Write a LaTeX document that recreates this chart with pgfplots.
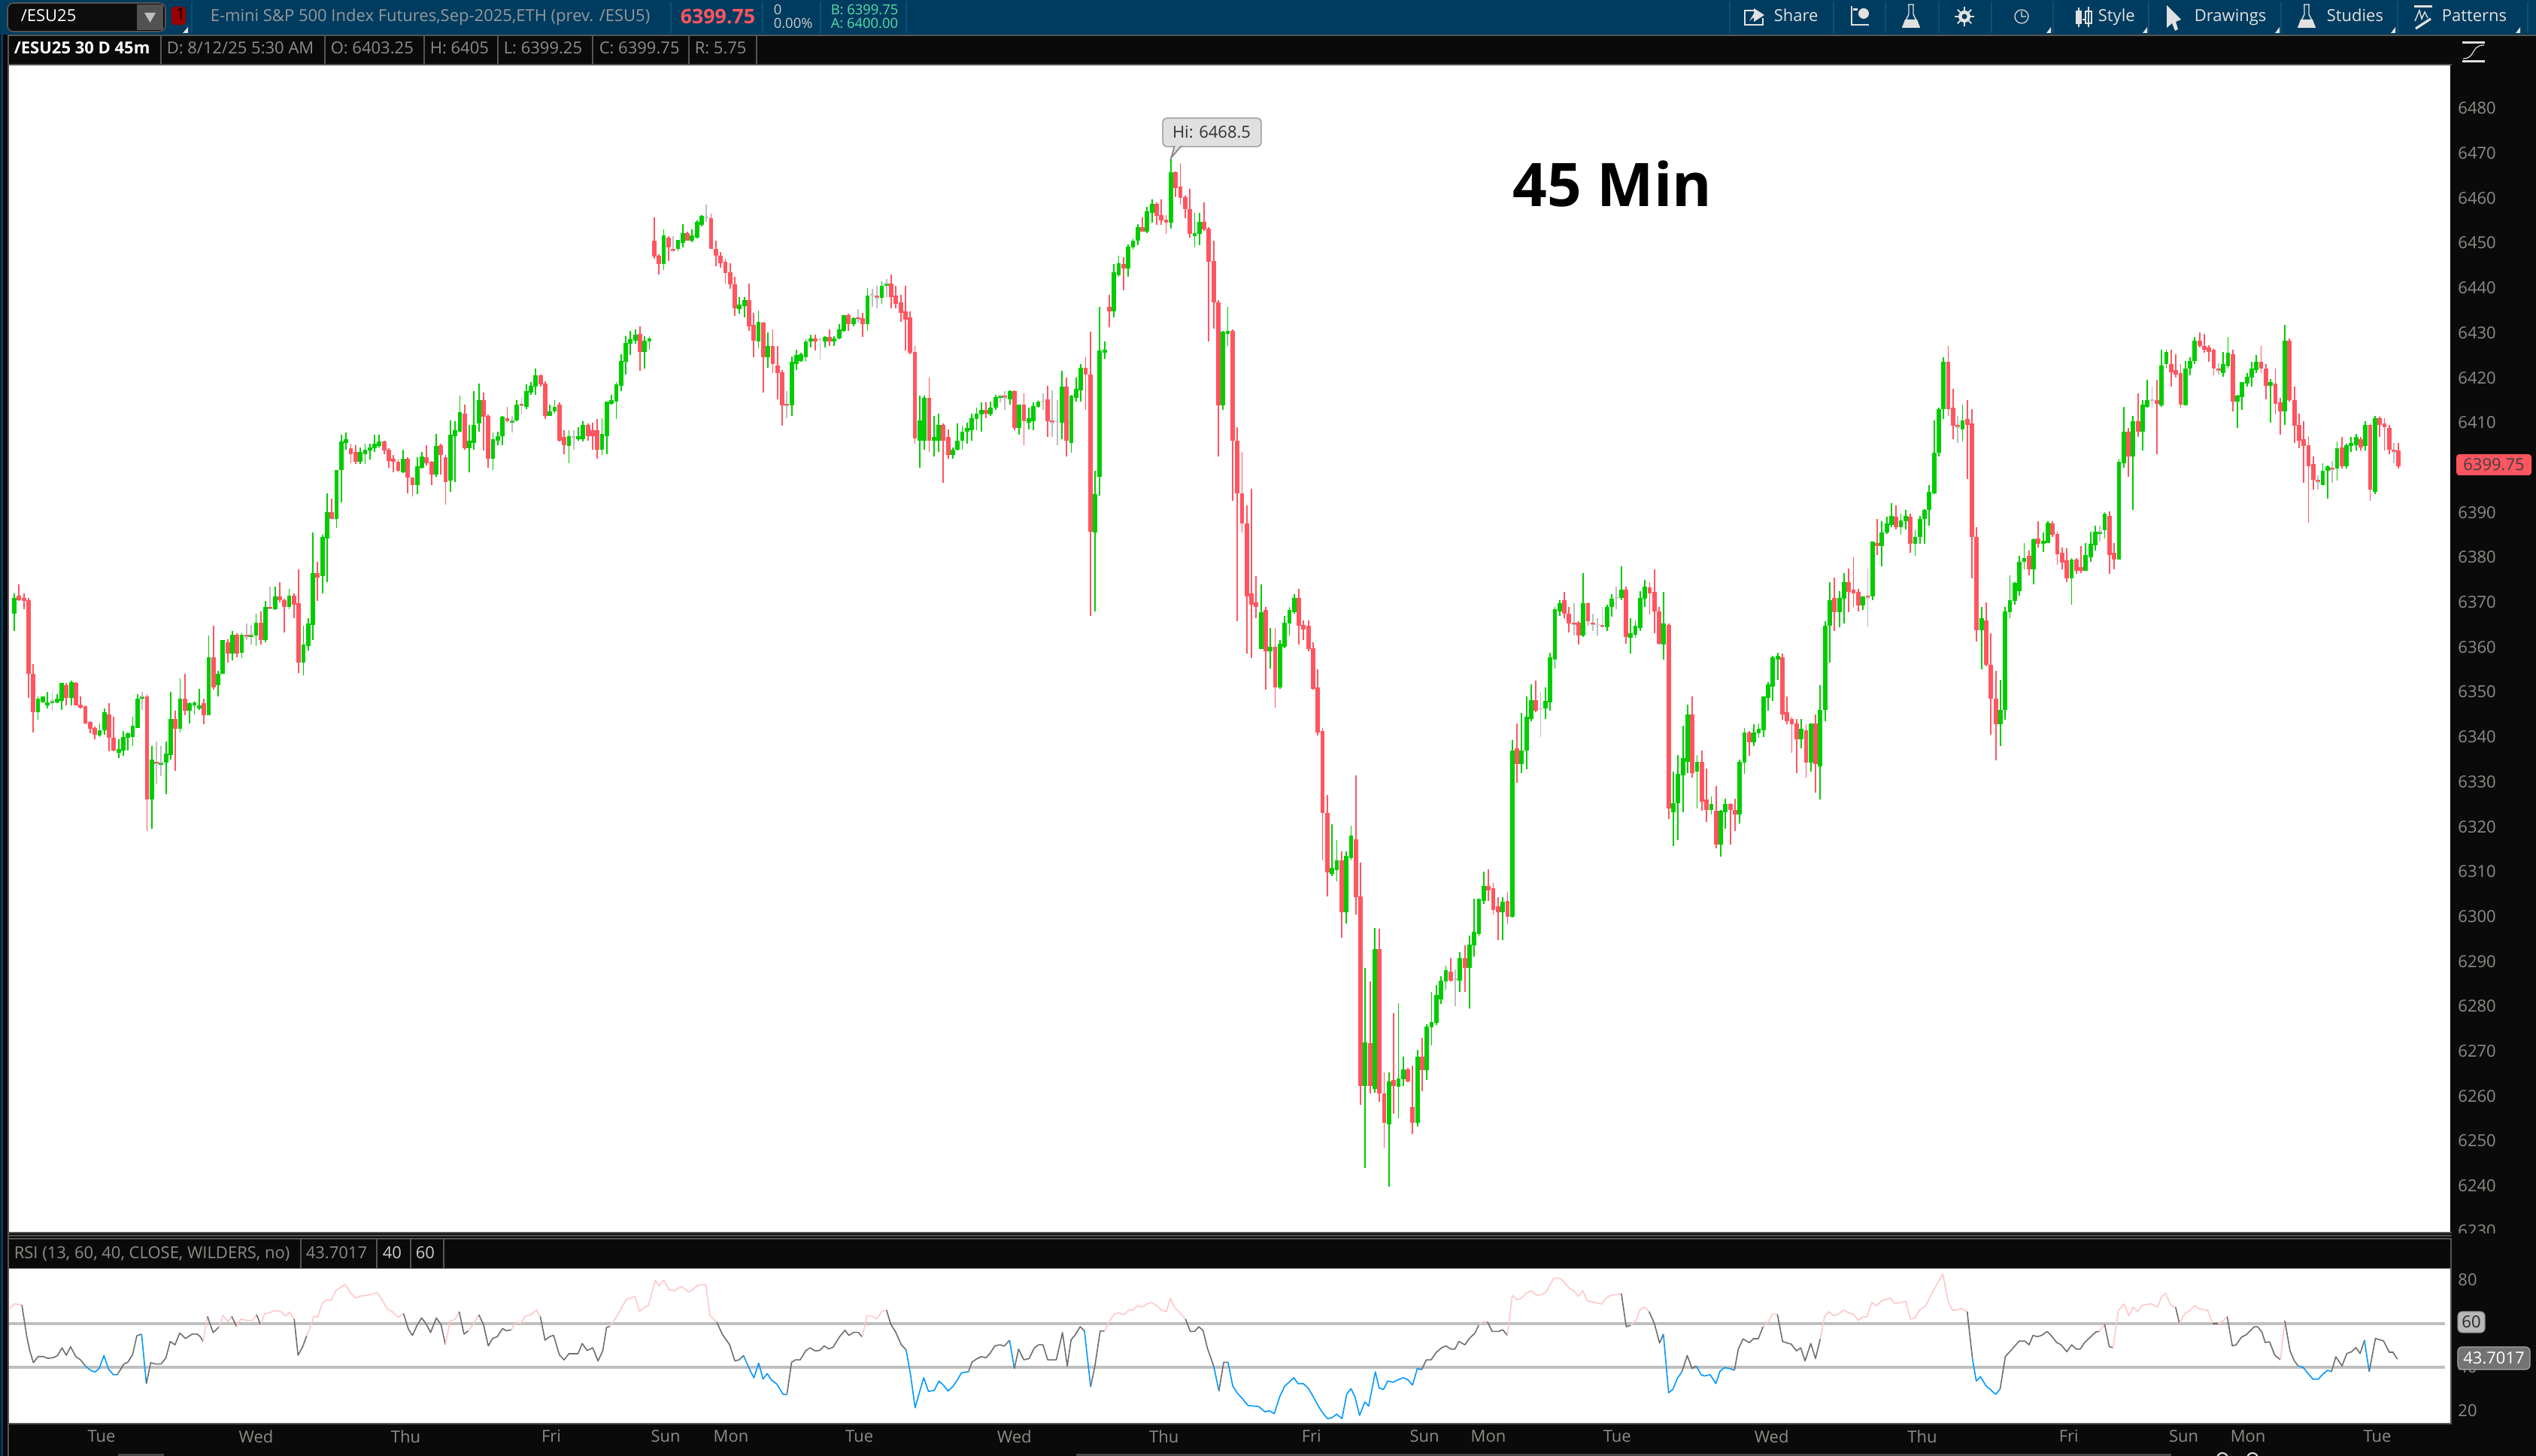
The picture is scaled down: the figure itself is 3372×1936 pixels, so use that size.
\documentclass[border=0pt]{standalone}
\usepackage{fontspec}
\setmainfont{Open Sans}
\usepackage{pgfplots}
\usepackage{pgfplotstable}
\pgfplotsset{compat=1.18}
\definecolor{panel}{RGB}{10,10,10}
\definecolor{topbar}{RGB}{0,60,95}
\definecolor{topsep}{RGB}{14,80,115}
\definecolor{rule}{RGB}{85,85,85}
\definecolor{txt}{RGB}{140,140,135}
\definecolor{icon}{RGB}{225,225,225}
\definecolor{cup}{RGB}{0,204,0}
\definecolor{cdn}{RGB}{255,85,96}
\definecolor{cdoji}{RGB}{190,190,190}
\definecolor{rsipink}{RGB}{255,200,200}
\definecolor{rsigray}{RGB}{110,110,110}
\definecolor{rsiblue}{RGB}{0,153,255}
% one row per 45 minute bar
\pgfplotstableread{
o h l c
6367 6371.5 6363 6370.5
6371 6373.5 6369.75 6370
6370.5 6371.5 6368 6369.75
6370 6370.5 6348.25 6353.5
6353.5 6355.75 6340.5 6345
6345 6348.5 6343.25 6348
6347.25 6348.5 6347.25 6348.5
6346.5 6349.5 6345.75 6347.25
6347 6349.5 6345.5 6347.5
6347.25 6349 6347 6348
6347.5 6351.5 6345.5 6351.5
6351 6351.5 6346.5 6348.25
6348.25 6352 6346.5 6351.75
6351.5 6351.75 6346.5 6346.5
6346.75 6348.5 6345.75 6346
6346.25 6346.5 6342.25 6342.5
6342.75 6343 6340.25 6341.25
6341.5 6341.75 6339 6340
6339.75 6342.5 6339.5 6341
6341 6345.75 6340 6345
6344.5 6347 6336.25 6339.25
6339.25 6344 6336.25 6336.5
6336 6339 6334.75 6336.75
6336.5 6340.75 6335.25 6339.5
6339.25 6340.5 6336.5 6340.25
6339.5 6344 6337.5 6342
6341.5 6349 6341.5 6348
6348 6349.5 6345.5 6348.5
6348.5 6349 6318.5 6325.5
6325.5 6337.5 6319 6334.5
6334 6338.5 6329 6333.5
6333.25 6337.5 6330.75 6333.75
6333.75 6338.5 6326.75 6335.75
6335.5 6349.5 6334.5 6343.5
6343.5 6345.25 6332 6341.25
6341.25 6352.5 6340.5 6348
6348 6353.5 6344.25 6345.25
6345.25 6347.25 6342.5 6347
6346.5 6347.5 6344.5 6347.25
6345.75 6350.25 6345.5 6346.5
6347 6348 6342.25 6344.25
6344.25 6362 6344.25 6357.25
6357.25 6364.25 6350 6350.5
6351 6354.25 6348.5 6353.5
6353.5 6361 6353.5 6361
6360.5 6361.25 6356 6358
6358 6363 6356.5 6362.25
6362.25 6362.5 6357.25 6358
6358.25 6362.5 6357 6362.25
6362.25 6364.75 6361 6361.75
6361.75 6364.5 6360 6362.25
6362 6367 6359.75 6365
6365 6367.5 6360 6361
6361 6369.75 6360.5 6368.5
6368.5 6373 6368 6368
6368 6373 6367.75 6370.75
6370.75 6374 6369.5 6370
6370 6370.25 6362.75 6368.5
6368.5 6372.5 6368 6371
6371 6371.5 6366 6369
6369.25 6376.75 6353.75 6356
6356 6364.25 6353.25 6360
6359.75 6366 6358.75 6364.75
6364.5 6385 6361 6376
6376 6378.5 6369.75 6375
6375.25 6384.5 6371.5 6384
6383.75 6393.75 6374 6389.5
6389.5 6392.5 6388 6388
6388 6399 6386 6399
6399 6406.75 6391.75 6405.25
6405 6407.25 6403.5 6405.75
6403.75 6404.75 6400.5 6402.5
6403 6404.5 6400.25 6400.75
6400.75 6404 6400.25 6403
6402.5 6404.75 6400.25 6403.5
6403.25 6404.75 6401.25 6404
6403.75 6406.75 6403 6404.75
6404.25 6406.75 6404 6405.25
6405.25 6405.5 6402.5 6403.25
6403.5 6403.75 6399.5 6401
6401.5 6402.25 6398.5 6400.75
6400.75 6401.25 6398.5 6398.75
6398.5 6403.5 6398.25 6401.5
6401.5 6401.75 6393.75 6397.25
6397.25 6397.5 6393 6395.5
6395.5 6401.75 6393.5 6399.75
6399.5 6403 6399.25 6402
6401.75 6404.5 6400 6400.5
6400.75 6401 6395.5 6398
6398 6407 6397.5 6404.25
6404.5 6404.75 6398 6402.25
6401.75 6402.5 6391.25 6396.25
6396.5 6410 6394 6406.75
6406.5 6409.75 6396.25 6407.75
6407.5 6415.5 6407.25 6411.75
6411.5 6413.5 6403.5 6403.75
6403.75 6409 6398.5 6405.5
6405 6416.5 6403.5 6409
6409.25 6418.25 6407.5 6414.5
6414.5 6416.25 6403.25 6410.75
6411 6411.25 6399.5 6401.5
6401.5 6407.25 6399 6405.75
6405.5 6407.5 6404.5 6406.5
6406.5 6411 6404.5 6410.75
6410.5 6413 6409.5 6409.75
6409.5 6411 6407.25 6410
6410 6414.5 6409.75 6413.5
6413.75 6415.25 6411.25 6413.25
6413 6418 6412.5 6416.5
6416.25 6418.5 6415.75 6417.75
6417.5 6421.5 6415.75 6420
6420 6420.25 6417.5 6418
6418.25 6418.75 6410.25 6411
6411 6413.5 6411 6412
6412 6414.5 6411.5 6413
6413.5 6414 6405.25 6405.5
6406.25 6407.75 6402.5 6404.5
6404.25 6407.75 6400.5 6406.5
6406.25 6407.75 6403.5 6406.25
6405.75 6408.5 6405.5 6406.5
6405.75 6409.75 6405.25 6409
6409 6409.25 6405.5 6406.5
6407.75 6409.5 6403.5 6406.5
6407.75 6410.25 6401.5 6403.5
6403.5 6410.5 6402.25 6407
6406.5 6414.25 6402.5 6414.25
6413.75 6415.75 6413.5 6414.5
6414.25 6418.5 6410.25 6418
6417.75 6424.75 6416.5 6423.25
6423 6428.75 6420.25 6427.25
6427 6430 6424.5 6428
6427.75 6430.25 6427 6429
6429.25 6431 6421 6425.25
6425.25 6428.75 6421.5 6427.75
6427.5 6428.5 6425.75 6428.25
6450 6455.25 6446 6446.5
6446.75 6447 6442.5 6444.75
6444.75 6452.5 6443.5 6451.25
6450.75 6451 6445.5 6448.5
6448.25 6451 6447.5 6447.75
6448.25 6450.25 6447.75 6450.25
6449.5 6453.75 6448.5 6451.75
6451.75 6452 6450 6450
6450 6452.5 6449.75 6451.25
6450.75 6454.5 6450.5 6454.25
6453.5 6455.75 6453.25 6455.5
6455.25 6458 6454.25 6455.25
6455 6456 6448.25 6448.25
6448.25 6450 6444.25 6446.75
6446.75 6447.5 6444 6445
6445.25 6446 6440.5 6442.75
6443 6445 6439.25 6440.25
6440.25 6442 6433.25 6435
6434.75 6437.5 6433.75 6435.75
6435.5 6437.5 6433 6436.75
6436.75 6440.5 6430 6431
6431.25 6434 6424 6427.75
6427.5 6434.5 6426 6432
6431.75 6432 6416.25 6424
6424 6429.5 6421.75 6426.5
6426.5 6430.25 6420.5 6422.5
6422.25 6426.5 6414.75 6420.5
6420.75 6421.25 6408.75 6413.25
6413.75 6416.5 6410.5 6413.25
6413.25 6424.25 6411 6423
6422.5 6425.75 6421.25 6424.5
6423.25 6425 6423 6424.75
6424 6428 6423 6427.5
6427.5 6429 6426.25 6428.25
6428.25 6429 6425.5 6427.5
6428 6428.5 6423.5 6428
6427.5 6428.75 6426.25 6428.5
6428.5 6430.25 6426.5 6427.5
6427.5 6428.75 6426.5 6428.25
6428.25 6431.5 6428 6430.25
6430 6433.5 6429.75 6433.5
6433.5 6433.75 6430 6431.5
6431.5 6433 6431 6432.75
6433 6434.75 6431.75 6432.5
6432.75 6434 6428.5 6431.5
6431.5 6439.5 6430 6437.75
6438 6439.25 6435.25 6438
6437.75 6440 6435 6437.25
6437.25 6441 6436 6440
6440 6441.5 6437.5 6440.5
6440.5 6442.5 6435 6437.5
6437.75 6440 6435 6436
6436.25 6438 6432 6434
6434.25 6440 6425.5 6432.5
6433 6434.25 6424.75 6425
6425.25 6426.5 6404.75 6406
6405.5 6415.5 6399.5 6410
6405.5 6415.5 6403.5 6415
6415 6419.5 6403 6405.5
6405.5 6411 6402 6406.25
6405.5 6411.5 6403 6409
6409 6409.25 6396 6405.5
6406.25 6408 6401.5 6402.25
6402.25 6404 6401.5 6403.5
6403.5 6409.25 6403.25 6405.5
6405.5 6408.75 6403.5 6407.5
6407.5 6409.5 6404.75 6408.25
6407.75 6411.5 6405.5 6410.5
6410.25 6412.75 6407.75 6411.5
6411.25 6414 6407.5 6412.25
6412.25 6414 6410.5 6411.5
6411.25 6414.25 6411 6412.75
6412.75 6415.75 6412.25 6415.25
6415 6415.75 6414 6415.5
6415.5 6416.5 6412.25 6415
6414.75 6416.75 6413.5 6416.5
6416.5 6416.75 6407.75 6408.25
6408.25 6413.5 6406.75 6413.5
6413.5 6416 6404.5 6409.75
6409.5 6412.75 6408 6410.5
6409.75 6414 6407.75 6413.25
6413 6414.5 6412.75 6414.25
6414.25 6416 6412.25 6414.25
6414.75 6417.75 6406.25 6409.75
6410 6416.75 6406.25 6409.5
6409.75 6414.5 6404.5 6409.75
6409.5 6421 6405.75 6417.5
6417.5 6419.5 6402 6405.5
6405 6415.75 6402.75 6415.5
6415 6419.5 6414.25 6417
6416.75 6422.5 6414.25 6421.75
6421.75 6424 6412.25 6420.25
6420.25 6429.75 6366.5 6385.25
6385 6398.75 6367.5 6393.5
6397.5 6435.25 6393.25 6425.5
6425 6427.5 6423.75 6425.75
6435.25 6438 6430.75 6434.25
6434.25 6444.75 6433 6443
6442.25 6446.75 6442 6445
6444.75 6446.25 6439 6443.75
6443.75 6449.25 6442 6448.75
6448.5 6450.5 6448 6450
6450 6453.75 6449 6453
6453 6455.25 6452 6452
6452 6457.5 6451.75 6456.5
6456.25 6459.25 6454 6458.25
6458.25 6458.5 6453.5 6455.5
6455.75 6459.25 6453.5 6454.5
6454.75 6455.75 6451.5 6454
6454 6468.5 6452.75 6465.25
6465.25 6465.5 6459.75 6461.75
6462 6467.25 6458 6459.5
6459.75 6460 6455 6457
6457 6461.5 6450.75 6451.5
6451 6456.25 6448.5 6451.75
6451.5 6456.25 6449 6454.25
6454.25 6458.5 6452.25 6452.5
6452.75 6453 6427.5 6445.25
6445.5 6450 6430.5 6436.25
6436.25 6436.75 6402 6413.25
6413.25 6430 6412.25 6429.75
6429.25 6435.25 6426.5 6430
6430 6430.25 6392 6405.5
6405.5 6408.5 6365.25 6393.75
6393.75 6403 6385 6387
6387 6391 6358 6370.75
6371.5 6394.75 6357 6369
6369.5 6375.25 6366 6368.5
6359 6373.5 6359 6367.25
6367.75 6368.5 6350 6358.5
6358.5 6363.75 6354.75 6359.5
6359.5 6363.75 6346 6350.5
6350.5 6361 6350.25 6360.25
6359.5 6366.5 6359.25 6365
6364.75 6368.5 6362 6367.75
6367.25 6371.25 6367 6370.5
6370.5 6372.5 6360 6364.25
6364.5 6365.5 6361 6363.5
6364.25 6365.5 6358.5 6359
6359.25 6360.5 6350 6350.25
6350.5 6354.5 6339.75 6340.5
6340.75 6341.5 6312 6322.5
6322.5 6326.5 6304 6309.25
6309 6320 6308.5 6310.25
6309.75 6316.5 6307.25 6312
6312 6314 6294.75 6300.5
6300.5 6314 6298 6313
6312.5 6319.75 6312 6317.5
6316.75 6331 6300 6303.75
6304 6311.5 6257.5 6261.75
6261.75 6288 6243.5 6271.5
6271.25 6285 6260 6261.75
6261 6297 6260.25 6292.25
6292.25 6296.75 6258.25 6260
6260 6264.75 6248 6253.5
6253.25 6264.75 6239.25 6262.75
6263 6278 6255.5 6261.75
6261.5 6280.25 6254.5 6263.5
6263.25 6268.25 6261.75 6265.5
6265.5 6265.75 6262.5 6262.75
6257 6266.25 6251 6253.5
6253.5 6269.75 6252.75 6268.25
6268.25 6272.5 6260.5 6265.25
6265.25 6275.5 6263 6275
6274.75 6282.75 6270.75 6276
6275.75 6284.25 6275.25 6282
6281 6286.25 6280 6285.25
6285 6288.5 6283.25 6287.5
6287.25 6290.25 6285 6285.25
6285.5 6287.75 6279.5 6285.5
6285.25 6291.5 6282.75 6290.25
6290.25 6293 6282.75 6288
6288 6295.25 6279 6293.25
6293 6303.5 6290.5 6296
6295.5 6303.5 6295 6303.5
6303 6309.5 6302.25 6306.25
6306.25 6310 6303 6305.25
6305.75 6307 6300 6301
6301.75 6303.75 6294.25 6300.5
6300.5 6303.75 6294.25 6302.75
6303 6305 6297.75 6299.5
6299.5 6338.75 6299.25 6336.5
6337 6342.5 6329.25 6333.5
6333.5 6344.75 6331.5 6336.5
6336.5 6348.5 6332.25 6344
6343.5 6351.25 6343 6347.75
6347.75 6352 6345 6345.25
6345.75 6349.5 6339.5 6345.75
6345.75 6350.5 6343.5 6347.5
6347.25 6358.25 6345.25 6357.25
6356.75 6368.5 6354.75 6368
6367.5 6370 6366.5 6369.25
6370 6371.75 6366 6367
6367 6368.5 6362.75 6364.75
6365 6369.25 6362 6364.5
6365 6365.25 6360 6362
6362 6376 6361.75 6369.25
6369.25 6369.5 6364.25 6365.25
6365 6367 6363 6364.5
6364.5 6366 6362 6364.5
6364.5 6368.5 6363.75 6364
6364 6369 6363 6368.5
6368.5 6371.25 6366.25 6370.25
6370.5 6373 6368 6370.5
6370.5 6377.5 6370 6372.25
6372.25 6373 6360.25 6361.75
6361.5 6366 6358 6362.5
6362.25 6365.5 6361.5 6364.25
6363.75 6372 6363 6370.5
6370.25 6374.5 6368.5 6373
6372.75 6374 6366.75 6371.5
6371.75 6376.75 6362.5 6367.5
6367.5 6368.5 6360 6360.25
6360 6371.75 6356.75 6364.75
6364.5 6364.75 6321.25 6323.5
6322.75 6331.75 6315.25 6324.75
6324.75 6335.5 6316.5 6331.25
6331 6342 6322.75 6334.75
6334 6346.75 6331.5 6344.5
6344.5 6348.5 6330.5 6331.5
6331.75 6335.5 6323.5 6334
6334 6336.5 6323 6325
6325.5 6332.5 6320.5 6323.25
6323.25 6326.25 6322.25 6324.5
6323 6328.5 6314.75 6315.5
6315.5 6323.25 6312.75 6323
6322.75 6325.75 6319 6324.5
6324.5 6324.75 6315.5 6323.25
6323.25 6325.75 6318.5 6322.25
6322.25 6334.5 6320.25 6334
6333.75 6341.5 6331.25 6340.5
6340.5 6340.75 6335.25 6338.25
6338.25 6342.25 6337.5 6340.5
6340.25 6342.5 6339.25 6341.25
6341 6348.5 6339.5 6348.5
6348.25 6351.75 6345.25 6351.25
6350.75 6357.5 6347.5 6357.25
6356.75 6358.25 6352.25 6357.5
6357.25 6358 6343.25 6344.5
6345 6348.5 6342.25 6343
6343.5 6344 6336 6342.25
6342.5 6343.5 6331.5 6339
6339 6343.5 6337 6341.25
6341 6342.25 6330.5 6333.75
6333.75 6342.5 6331.75 6342.5
6342.5 6344.5 6327 6333.5
6333 6351 6325.5 6345.5
6345.5 6365.25 6343 6364.25
6364.25 6374 6356 6370
6370.5 6375 6363 6367.25
6367.25 6372 6364 6370.5
6370.25 6376 6364.75 6374
6374 6377 6367.25 6371.75
6372.25 6379.5 6368.5 6371.5
6371.75 6372.5 6367.5 6368.75
6368.75 6370.75 6367.75 6370.75
6371 6377 6364 6370.5
6370.75 6383 6370 6383
6382.75 6388 6380 6382
6382 6387.5 6377.5 6385
6385 6388.5 6384.75 6387
6386.75 6391.5 6386.25 6388.75
6388.5 6391 6385.75 6386.25
6386.25 6389.25 6384.5 6387.75
6387.5 6390 6385.75 6388.75
6388.5 6389.25 6380.5 6382.5
6382.5 6385.5 6379.75 6384
6384 6388.75 6382.5 6388
6388 6390.25 6382.5 6390
6390 6395.5 6386.5 6394
6393.75 6410 6393.5 6402.75
6402.75 6412.75 6402 6412.5
6412.5 6424 6410.25 6423
6423 6426.5 6411 6412.5
6412.75 6417 6405.75 6408.75
6409 6411 6405 6408.5
6408 6413.5 6405.25 6410
6410.25 6414.5 6397 6409
6409.25 6412.5 6374.75 6384
6384 6386.25 6360.75 6363.25
6363.25 6368.5 6354.5 6366
6365.5 6369.5 6355.25 6355.5
6355.5 6362.5 6340 6348
6348 6354.25 6334.25 6342.25
6342.25 6352.25 6337.5 6345.5
6345.5 6368.5 6343.25 6367.5
6367.25 6375.5 6366 6370
6369.75 6374 6369 6373.75
6372 6379.75 6371 6378.5
6378.5 6382.75 6376.75 6379.25
6379.75 6381 6375.5 6376.75
6376.75 6383.75 6373.5 6383.5
6383.75 6387.5 6381.75 6382.5
6382.5 6385 6380.75 6383.25
6382.75 6387.5 6382.75 6387.25
6387 6387.5 6384 6384.5
6384.75 6385.25 6377.75 6380.25
6380.5 6381.75 6376.75 6378.25
6378.75 6381.5 6374 6374.75
6374.75 6379.25 6369 6379
6379 6379.25 6375.75 6376.5
6377.25 6382 6376 6376.5
6376.5 6382.75 6376.5 6380
6379.5 6385.25 6378.5 6382.5
6382.25 6386.5 6381 6385.25
6384.75 6386.5 6383 6385.25
6385.5 6389.5 6383.75 6389.25
6388.75 6389.75 6375.75 6380
6380.5 6382.75 6376.75 6379
6379 6401.5 6379 6400.75
6400.5 6413 6399.5 6407.5
6407.5 6408.25 6397.5 6402
6402 6411 6390 6409.75
6409.75 6416 6406.25 6407.5
6407.5 6414.5 6403.25 6413.5
6413 6419 6412.75 6414.5
6414.5 6417.5 6412.75 6414.5
6414.5 6419 6402.5 6413.75
6413.25 6425.75 6413 6422.25
6422.5 6425.75 6421.5 6425.25
6422.5 6425.75 6417.5 6420.75
6421.25 6424.75 6419.5 6420.25
6420.5 6422.5 6412.75 6413.5
6413.25 6423.25 6413.25 6421.5
6421.5 6424 6420 6423.25
6423.25 6428.5 6422.5 6427.75
6427.75 6429.5 6426.25 6426.5
6426.5 6429.25 6425 6425.75
6426.25 6426.75 6423 6425.25
6425.75 6426 6420 6421.5
6421.5 6422.75 6420.25 6421
6420.5 6425.25 6419.75 6422.5
6422 6428.5 6421.5 6425
6424.75 6425.75 6412 6414.25
6414.25 6415.75 6408.25 6415.5
6415.25 6418.5 6412.25 6418.5
6418.25 6420.5 6417.5 6419.75
6419.5 6423 6417.5 6421.5
6421.25 6424.5 6420.5 6423
6423 6426.5 6420.5 6421.5
6421.5 6422.5 6414.75 6417.75
6417.75 6419.25 6409.5 6418.5
6418.25 6421.5 6411.25 6413.75
6414 6415 6406.75 6412
6412 6431.25 6409 6427.75
6427.75 6428.25 6414.25 6414.5
6414.5 6417.5 6405 6408.75
6409 6411.5 6403.75 6405.5
6405.75 6409.75 6396 6404.25
6404.5 6406.5 6387.25 6399.75
6400.25 6402 6394.5 6396.75
6396.75 6397.75 6394.5 6396.25
6395.5 6400.5 6395.5 6398.75
6398.75 6400 6392.5 6399.75
6399.5 6401 6396 6399
6399.25 6405.25 6396.5 6403.75
6404 6406.25 6399.25 6399.75
6399.75 6404.75 6399.25 6404.5
6404.25 6406.25 6403 6405
6404.5 6407 6403.25 6406.25
6405.75 6406.25 6403.25 6404
6404.25 6409.75 6403.25 6409
6409 6409.25 6392 6394.5
6394 6411 6393.5 6410.5
6410.5 6410.75 6406.25 6409
6409.25 6410.5 6403.25 6408.5
6408.25 6409 6402.5 6403.5
6403.5 6405 6400.5 6403
6403.25 6405 6399.25 6399.75
}\ohlc
\pgfplotsset{
  rsip/.style={rsipink,line width=0.4pt,line join=round,mark=none},
  rsig/.style={rsigray,line width=0.4pt,line join=round,mark=none},
  rsib/.style={rsiblue,line width=0.4pt,line join=round,mark=none},
  wick/.style={draw=none,mark=none,forget plot,error bars/.cd,y dir=plus,y explicit,error mark=none,error bar style={#1,line width=0.45pt}},
  body/.style={draw=none,mark=none,forget plot,error bars/.cd,y dir=plus,y explicit,error mark=none,error bar style={#1,line width=1.45pt}},
}
\tikzset{
  ui/.style={anchor=west,inner sep=0pt,text height=4pt,text depth=1pt,font=\fontsize{5.5}{6}\selectfont,text=txt},
  bar/.style={fill=topsep,draw=none},
  tri/.style={fill=icon,draw=none},
}
\begin{document}
\begin{tikzpicture}[x=0.25pt,y=0.25pt]
\path[use as bounding box] (0,0) rectangle (3372,1936);
\fill[panel] (0,0) rectangle (3372,1936);
\fill[topbar] (0,1890) rectangle (3372,1936);
% left strip and rules
\fill[topbar] (1,0) rectangle (4,1936);
\fill[rule] (10,0) rectangle (12,1888);
\fill[rule] (10,1888) rectangle (3372,1890);
\fill[rule] (10,1849) rectangle (3260,1851);
% symbol box
\draw[rule,fill=black!95,rounded corners=2pt] (10,1894) rectangle (220,1932);
\fill[black!68] (182,1896) rectangle (217,1930);
\fill[black!25] (192,1919) -- (207,1919) -- (199.5,1906) -- cycle;
\node[ui,text=white] at (27,1913) {/ESU25};
\fill[red!60!black,rounded corners=1pt] (228,1903) rectangle (247,1927);
\node[ui,text=black] at (233,1915) {1};
\fill[tri] (243,1892) -- (250,1892) -- (250,1900) -- cycle;
\foreach \x in {254,891,1013,1090,1204,2299,2437,2506,2577,2647,2729,2856,3032,3187,3360}
  \fill[bar] (\x,1892) rectangle (\x+2,1934);
\node[ui,text=black!40!cyan!10!gray!90!white] at (279,1913) {E-mini S\&P 500 Index Futures,Sep-2025,ETH (prev. /ESU5)};
\node[ui,text=cdn,text height=5pt,font=\fontsize{6.7}{8}\bfseries] at (904,1912) {6399.75};
\node[ui,text=black!20,font=\fontsize{4.6}{5}\selectfont] at (1028,1922) {0};
\node[ui,text=black!20,font=\fontsize{4.6}{5}\selectfont] at (1028,1904) {0.00\%};
\definecolor{bidask}{RGB}{90,220,170}
\node[ui,text=bidask,font=\fontsize{4.6}{5}\selectfont] at (1104,1922) {B: 6399.75};
\node[ui,text=bidask,font=\fontsize{4.6}{5}\selectfont] at (1104,1904) {A: 6400.00};
% toolbar
\node[ui,text=icon] at (2358,1913) {Share};
\node[ui,text=icon] at (2789,1913) {Style};
\node[ui,text=icon] at (2917,1913) {Drawings};
\node[ui,text=icon] at (3093,1913) {Studies};
\node[ui,text=icon] at (3246,1913) {Patterns};
\draw[icon,line width=0.35pt] (2332,1922) -- (2320,1922) -- (2320,1903) -- (2344,1903) -- (2344,1912);
\fill[icon] (2326,1908) -- (2332,1918) -- (2332,1925) -- (2346,1916) -- (2332,1907) -- (2332,1913) -- cycle;
\draw[icon,line width=0.35pt] (2462,1928) -- (2462,1903) -- (2485,1903);
\fill[icon] (2464,1922) rectangle (2470,1925);
\fill[icon] (2478,1918) circle (7);
\draw[icon,line width=0.35pt] (2537,1930) -- (2545,1930) (2538,1930) -- (2538,1917) -- (2530,1900) -- (2552,1900) -- (2544,1917) -- (2544,1930);
\fill[icon] (2533,1910) -- (2549,1910) -- (2553,1899) -- (2529,1899) -- cycle;
\fill[icon] (2612,1914) circle (8);
\fill[topbar] (2612,1914) circle (3.5);
\foreach \a in {0,45,...,315} \draw[icon,line width=0.45pt] (2612,1914) ++(\a:7) -- ++(\a:6);
\draw[icon,line width=0.3pt] (2688,1914) circle (9) (2688,1921) -- (2688,1914) -- (2694,1914);
\fill[icon] (2760,1904) rectangle (2768,1922);
\draw[icon,line width=0.3pt] (2764,1900) -- (2764,1926) (2772,1910) rectangle (2769,1910);
\draw[icon,line width=0.35pt] (2773,1905) rectangle (2781,1921) (2777,1900) -- (2777,1927);
\fill[icon] (2881,1929) -- (2881,1899) -- (2888,1905) -- (2892,1895) -- (2896,1897) -- (2893,1907) -- (2900,1910) -- cycle;
\draw[icon,line width=0.35pt] (3063,1930) -- (3071,1930) (3064,1930) -- (3064,1917) -- (3056,1900) -- (3078,1900) -- (3070,1917) -- (3070,1930);
\fill[icon] (3059,1910) -- (3075,1910) -- (3079,1899) -- (3055,1899) -- cycle;
\fill[icon] (3210,1926) rectangle (3234,1929);
\draw[icon,line width=0.35pt] (3211,1908) -- (3217,1922) -- (3220,1911) -- (3224,1920) -- (3228,1912);
\draw[icon,line width=0.8pt] (3212,1898) -- (3232,1911);
\foreach \x in {2721,2849,3025,3179,3345}
  \fill[tri] (\x,1892) -- (\x+6,1892) -- (\x+6,1900) -- cycle;
% bar readout
\foreach \x in {213,431,563,661,787,915,1005}
  \fill[rule] (\x,1851) rectangle (\x+1.5,1888);
\node[ui,text=white,font=\fontsize{5.5}{6}\bfseries] at (18,1870) {/ESU25 30 D 45m};
\node[ui] at (221,1870) {D: 8/12/25 5:30 AM};
\node[ui] at (439,1870) {O: 6403.25};
\node[ui] at (571,1870) {H: 6405};
\node[ui] at (669,1870) {L: 6399.25};
\node[ui] at (796,1870) {C: 6399.75};
\node[ui] at (923,1870) {R: 5.75};
% price panel icon
\fill[icon] (3274,1881) rectangle (3304,1878);
\fill[icon] (3274,1856) rectangle (3304,1853);
\draw[icon,line width=0.3pt] (3275,1858) .. controls (3292,1858) and (3285,1876) .. (3303,1876);
%
\begin{axis}[name=price,at={(3pt,74.5pt)},anchor=south west,scale only axis,width=811.5pt,height=387.75pt,
  xmin=-1.11,xmax=513.9,ymin=6229.25,ymax=6489.05,
  axis line style={draw=none},axis background/.style={fill=white},
  xtick=\empty,ytick={6230,6240,...,6480},tick style={draw=none},
  yticklabel pos=right,/pgf/number format/assume math mode=true,
  y tick label style={/pgf/number format/1000 sep={}},
  yticklabel style={anchor=west,inner sep=0pt,xshift=2.4pt,yshift=-0.75pt,text=txt,font=\fontsize{5.5}{6}\selectfont}]
\addplot[wick=cup] table[x expr={\thisrow{c}>\thisrow{o}?\coordindex:nan},y=l,y error expr=\thisrow{h}-\thisrow{l}] {\ohlc};
\addplot[wick=cdn] table[x expr={\thisrow{c}<\thisrow{o}?\coordindex:nan},y=l,y error expr=\thisrow{h}-\thisrow{l}] {\ohlc};
\addplot[wick=cdoji] table[x expr={\thisrow{c}==\thisrow{o}?\coordindex:nan},y=l,y error expr=\thisrow{h}-\thisrow{l}] {\ohlc};
\addplot[body=cup] table[x expr={\thisrow{c}>\thisrow{o}?\coordindex:nan},y=o,y error expr=\thisrow{c}-\thisrow{o}] {\ohlc};
\addplot[body=cdn] table[x expr={\thisrow{c}<\thisrow{o}?\coordindex:nan},y=c,y error expr=\thisrow{o}-\thisrow{c}] {\ohlc};
\addplot[draw=none,mark=none,forget plot,error bars/.cd,x dir=both,x fixed=0.4,error mark=none,error bar style={cdoji,line width=0.42pt}] table[x expr={\thisrow{c}==\thisrow{o}?\coordindex:nan},y=c] {\ohlc};
\end{axis}
% high bubble
\draw[black!45,fill=black!12,line width=0.3pt,rounded corners=1.5pt] (1546,1741) rectangle (1677,1779);
\fill[black!45] (1555,1722) -- (1561,1742) -- (1572,1742) -- cycle;
\fill[black!12] (1563,1743) -- (1570,1743) -- (1560,1731) -- cycle;
\node[anchor=center,inner sep=0pt,text=black!80,font=\fontsize{5.5}{6}\selectfont] at (1611,1760) {Hi: 6468.5};
\node[anchor=center,inner sep=0pt,text=black,font=\fontsize{20}{22}\bfseries] at (2144,1691) {45 Min};
% last price flag
\fill[cdn,rounded corners=1pt] (3266,1304) rectangle (3366,1332);
\node[anchor=center,inner sep=0pt,text=black!75,font=\fontsize{5.5}{6}\selectfont] at (3316,1318) {6399.75};
% study header
\fill[panel] (12,250) rectangle (3372,296);
\fill[rule] (12,296) rectangle (3260,298);
\fill[rule] (12,292) rectangle (3260,294);
\fill[rule] (12,288) rectangle (3260,290);
\fill[rule] (12,248) rectangle (3260,250);
\fill[rule] (3258,248) rectangle (3260,288);
\foreach \x in {399,500,545,589}
  \fill[rule] (\x,250) rectangle (\x+1.5,288);
\node[ui] at (18,268) {RSI (13, 60, 40, CLOSE, WILDERS, no)};
\node[ui] at (406,268) {43.7017};
\node[ui,text=black!20] at (508,268) {40};
\node[ui,text=black!20] at (552,268) {60};
\fill[rule] (10,42) rectangle (3260,44);
\fill[rule] (3258,42) rectangle (3260,248);
\begin{axis}[name=rsi,at={(3pt,11pt)},anchor=south west,scale only axis,width=811.5pt,height=51.25pt,
  xmin=-1.1,xmax=510.8,ymin=14.48,ymax=85.17,
  axis line style={draw=none},axis background/.style={fill=white},
  ytick={20,40,60,80},tick style={draw=none},
  xtick={18.3,50.7,82.1,112.6,136.6,150.3,177.2,209.7,241.1,272,295.7,309.1,336.1,368.5,400.1,430.8,454.9,468.4,495.5},
  xticklabels={Tue,Wed,Thu,Fri,Sun,Mon,Tue,Wed,Thu,Fri,Sun,Mon,Tue,Wed,Thu,Fri,Sun,Mon,Tue},
  yticklabel pos=right,/pgf/number format/assume math mode=true,
  x tick label style={yshift=-2.2pt,inner sep=0pt,text=txt,font=\fontsize{5.5}{6}\selectfont,anchor=north},
  yticklabel style={anchor=west,inner sep=0pt,xshift=2.4pt,text=txt,font=\fontsize{5.5}{6}\selectfont}]
\addplot[black!25,line width=0.8pt,forget plot] coordinates {(-1.1,60) (509.7,60)};
\addplot[black!25,line width=0.8pt,forget plot] coordinates {(-1.1,40) (509.7,40)};
\addplot[rsip] coordinates {(-0.9,67)(0,69.1)(1.6,68.5)};
\addplot[rsig] coordinates {(1.6,68.5)(2.6,54.4)(3.2,48)(4,42.1)(5,44.9)(6.1,44.9)(7,44.1)(8.2,44.4)(9.1,45.4)(10,48.9)(10.9,45.5)(11.8,49.4)(12.9,44.9)(13.9,43.4)(14.9,40.6)};
\addplot[rsib] coordinates {(14.9,40.6)(16,38.6)(16.9,37.8)(17.8,39.4)(18.8,45.4)(19.8,39)(20.8,36.6)(21.6,36.6)};
\addplot[rsig] coordinates {(21.6,36.6)(23,41.5)(23.8,42.3)(24.8,45.7)(25.7,54.4)(26.7,55.2)};
\addplot[rsib] coordinates {(26.7,55.2)(27.7,32.5)};
\addplot[rsig] coordinates {(27.7,32.5)(28.6,42.1)(29.6,41.5)(30.8,41.5)(31.8,44.3)(32.7,51.8)(33.7,50.3)(34.7,55.7)(35.9,53.2)(37.3,55.2)(38.3,55.2)(39,54.1)(39.6,51.7)};
\addplot[rsip] coordinates {(39.6,51.7)(40.5,63.3)};
\addplot[rsig] coordinates {(40.5,63.3)(41.7,55.9)(42.9,58.4)};
\addplot[rsip] coordinates {(42.9,58.4)(43.8,63.8)(44.8,61)(45.6,63.3)};
\addplot[rsig] coordinates {(45.6,63.3)(46.6,58.7)};
\addplot[rsip] coordinates {(46.6,58.7)(47.5,62.1)(48.7,61.5)(49.9,61.5)(50.8,64.1)};
\addplot[rsig] coordinates {(50.8,64.1)(51.7,59.3)};
\addplot[rsip] coordinates {(51.7,59.3)(52.5,64.7)(53.5,64.9)(54.6,66)(55.9,65.6)(56.9,63.5)(57.7,65.3)(58.7,62.1)};
\addplot[rsig] coordinates {(58.7,62.1)(59.5,45.5)(60.5,49.5)(61.3,54.4)};
\addplot[rsip] coordinates {(61.3,54.4)(62.2,59)(62.8,63.3)(63.6,63)(64.6,69.3)(65.6,71)(66.4,70.5)(67.4,75)(68.5,76.8)(69.4,77.9)(70.6,73.9)(71.6,71.8)(72.8,72.7)(74.2,73.1)(76.1,74.1)(76.9,71.6)(78.2,66.8)(79.4,65.3)(80.5,62.9)(81.6,64.7)};
\addplot[rsig] coordinates {(81.6,64.7)(82.7,57.2)(83.5,54.6)(84.4,58.9)(85.4,62.6)(86.3,60.1)(87.3,55.9)(88.5,62.6)(89.5,59.5)(90.4,50.3)};
\addplot[rsip] coordinates {(90.4,50.3)(91.4,61.3)(92.4,61.8)(93.3,65.5)};
\addplot[rsig] coordinates {(93.3,65.5)(94.3,55.2)(95.2,56.7)};
\addplot[rsip] coordinates {(95.2,56.7)(96.2,59.5)(97.4,64.1)};
\addplot[rsig] coordinates {(97.4,64.1)(98.4,59.5)(99.4,49.8)(100.3,53.2)(101.3,54.1)(102.4,57.8)(103.2,56.7)(104.2,57.2)};
\addplot[rsip] coordinates {(104.2,57.2)(105.3,60.7)(106.2,60.1)(107.1,63.3)(108.3,64.1)(109.5,66.2)(110.3,63.3)};
\addplot[rsig] coordinates {(110.3,63.3)(111.3,52.4)(112.3,54.1)(113.1,54.6)(114.3,45.7)(115.3,43.4)(116.3,46.2)(118.2,46.2)(119.1,50.9)(120.1,47.7)(121.3,48.9)(122.4,42.9)(123.4,47.5)(124.2,58.3)(124.9,58.7)};
\addplot[rsip] coordinates {(124.9,58.7)(126.1,62.4)(128.3,71)(130.1,72.4)(131.1,65.6)(132.2,67.6)(133,68.4)(134.4,79.9)(135.2,77.4)(136.2,79.9)(137.3,75.6)(138.5,75.1)(139.9,77.1)(141.4,74.5)(142.3,75.6)(143.3,77.6)(145,77.9)(145.9,63.6)(147.3,60.7)};
\addplot[rsig] coordinates {(147.3,60.7)(148.5,55)(150,50.3)(151.1,42.9)(152,43.4)(152.9,45.4)};
\addplot[rsib] coordinates {(152.9,45.4)(154.3,38.5)(155.1,35.2)(156.1,41.9)(157,34.6)(157.9,37.1)(158.7,34.3)(159.9,32.3)(161.2,27.6)(162,27.4)};
\addplot[rsig] coordinates {(162,27.4)(163,42.3)(163.8,43.4)(164.8,43.4)(166,47.7)(166.9,48.9)(167.9,47.5)(168.9,47.7)(169.8,49.8)(170.8,48.4)(171.7,49.2)(173,53.8)(174.2,57)(175,54.6)(176,56)(177,56)(177.8,53.8)};
\addplot[rsip] coordinates {(177.8,53.8)(178.8,63.6)(179.7,63.6)(180.8,62.2)(182,65.7)(182.9,66.2)};
\addplot[rsig] coordinates {(182.9,66.2)(183.8,59.7)(184.8,56.2)(186,50.3)(187,48)};
\addplot[rsib] coordinates {(187,48)(187.9,37.1)(188.9,21.4)(189.8,28.5)(190.7,35.2)(191.7,28.9)(192.9,29.4)(193.9,33.7)(194.9,31.6)(195.8,29.1)(196.8,31.1)(197.8,34.3)(198.6,37.4)(199.7,37.9)(200.1,38)};
\addplot[rsig] coordinates {(200.1,38)(200.8,42.3)(201.7,43.7)(202.8,44.9)(203.7,44.3)(204.6,46.3)(205.6,49.8)(206.7,50.3)(207.6,49.7)(208.7,52.4)};
\addplot[rsib] coordinates {(208.7,52.4)(209.7,39.4)};
\addplot[rsig] coordinates {(209.7,39.4)(210.6,48.3)(211.7,43.4)(212.8,44)(213.9,48.9)(214.8,50.3)(215.7,50.3)(216.7,43.4)(218.5,43.4)(219.8,55.9)(220.8,40.6)(221.6,52.6)(222.5,54.9)(223.5,58.6)(224.4,56.7)};
\addplot[rsib] coordinates {(224.4,56.7)(225.7,31)};
\addplot[rsig] coordinates {(225.7,31)(226.6,40.6)(227.7,56.6)(228.6,56.6)};
\addplot[rsip] coordinates {(228.6,56.6)(229.6,61)(230.7,64.5)(231.6,64.9)(232.7,64.1)(233.8,66.3)(234.6,66.3)(235.5,68.2)(236.6,67.6)(237.5,69)(238.5,69.7)(239.6,68.2)(240.4,66.4)(241.6,65.5)(242.4,71.6)(243.4,67.2)(244.5,64.7)(245.6,62.1)};
\addplot[rsig] coordinates {(245.6,62.1)(246.6,56.4)(247.5,56.4)(248.4,58.6)(249.3,56.7)(250.2,48.6)(251.5,40.6)};
\addplot[rsib] coordinates {(251.5,40.6)(252.6,29.1)};
\addplot[rsig] coordinates {(252.6,29.1)(253.6,42.3)(254.5,42.3)};
\addplot[rsib] coordinates {(254.5,42.3)(255.5,31.4)(256.4,28.3)(257.6,25.4)(258.7,22.5)(259.8,22.2)(260.9,22)(262.3,19.5)(263.1,20.1)(264.2,18.7)(265.4,26.8)(266.4,31.4)(267.3,33.1)(268.3,35.2)(269.2,32.5)(270.3,32.5)(271.4,30.2)(272.5,26)(273.6,21.6)(274.5,18.7)(275.4,16.4)(276.4,17)(277.3,18.5)(278.4,16.4)(279.4,27.7)(280.3,30.2)(281.1,26.6)(282.1,17.9)(283.2,24.1)(284,22.2)(285.4,37.9)(286.2,30.5)(287.1,29.8)(288,33.7)(289.1,33.1)(290.2,34.3)(291.3,35.2)(292.2,34.3)(293.2,31.8)(294.2,39.4)(295.1,38.9)};
\addplot[rsig] coordinates {(295.1,38.9)(296.1,43.4)(297.1,43.4)(298.2,46.9)(299.3,48.9)(300.2,49.8)(301.3,48.3)(302.1,48.3)(302.9,51.8)(304.2,50.3)(305.1,53.2)(306.3,55.7)(307.1,59.5)};
\addplot[rsip] coordinates {(307.1,59.5)(307.9,60.8)(308.9,60.8)};
\addplot[rsig] coordinates {(308.9,60.8)(309.9,56.4)(311.2,56.4)(312.1,57.2)(313.1,54.6)};
\addplot[rsip] coordinates {(313.1,54.6)(314.1,73)(315.1,71)(315.9,71.4)(317,73.9)(318.1,75.1)(319.2,73.1)(320.3,73.3)(321.2,74.5)(322.8,80.8)(324.2,80.8)(326.2,76)(326.9,75.3)(328,72.5)(328.9,75.1)(329.8,70.5)(331.1,69.9)(332.8,69)(333.9,71.8)(334.8,73.1)(336.1,73.3)(337,73.7)};
\addplot[rsig] coordinates {(337,73.7)(338,58.6)(338.9,59.2)};
\addplot[rsip] coordinates {(338.9,59.2)(340,61.3)(340.9,66.4)(341.8,67.6)(342.8,65.5)};
\addplot[rsig] coordinates {(342.8,65.5)(343.9,60.1)(345,51.1)(345.8,55.2)};
\addplot[rsib] coordinates {(345.8,55.2)(346.9,28.3)(347.8,29.9)(348.7,34.8)(349.7,38)};
\addplot[rsig] coordinates {(349.7,38)(350.8,45.4)(351.8,39.4)(352.7,40.6)};
\addplot[rsib] coordinates {(352.7,40.6)(353.7,36.6)(354.4,36)(355.6,36.6)(356.8,32.5)(357.7,38.3)(358.6,39.8)(359.7,39.4)(360.7,38.6)};
\addplot[rsig] coordinates {(360.7,38.6)(361.5,48.3)(362.5,53)(363.8,51.3)(364.7,53.1)(365.7,53.1)(366.7,58.6)};
\addplot[rsip] coordinates {(366.7,58.6)(367.8,60.7)(368.6,64.3)(369.7,64.3)};
\addplot[rsig] coordinates {(369.7,64.3)(370.8,51.8)(371.8,51.1)(372.6,50.6)(373.7,47.5)(374.6,48.9)(375.5,42.9)(376.7,50.9)(377.7,44)(378.7,53)};
\addplot[rsip] coordinates {(378.7,53)(379.6,63.2)(380.5,65.5)(381.6,63.6)(382.6,64.5)(383.6,66.2)(384.7,64.9)(385.6,64.4)(386.7,61.5)(387.5,63)(388.4,63)(389.5,69.7)(390.5,68.2)(391.6,70.5)(393.4,71.7)(394.4,69.1)(396.6,70.3)(397.6,62.1)(398.5,62.6)(399.6,66.4)(400.7,67.9)(402.3,74.7)(404.4,82.8)(405.5,70.1)(406.4,66.2)(407.3,66.2)(408.2,67)(409.5,65.5)};
\addplot[rsig] coordinates {(409.5,65.5)(410.6,44)};
\addplot[rsib] coordinates {(410.6,44)(411.4,33.7)(412.3,35.7)(413.4,31.6)(414.7,29.1)(415.5,27.6)(416.4,30)};
\addplot[rsig] coordinates {(416.4,30)(417.5,44.9)(418.8,48)(420.4,52)(421.6,52)(422.5,50.3)(423.3,54.6)(424.2,54)(425.1,54.6)(426.3,56.4)(427.4,53.8)(428.3,51.3)(429.2,50.3)(430.4,47.1)(431.4,50.3)(432.4,48.3)(433.2,48.3)(434.1,51.3)(435.7,54.6)(436.5,56.2)(437.2,56.4)};
\addplot[rsip] coordinates {(437.2,56.4)(438.3,59.8)};
\addplot[rsig] coordinates {(438.3,59.8)(439.3,49.4)(440.1,49)};
\addplot[rsip] coordinates {(440.1,49)(441.2,65.9)(442.4,69)(443.4,63.6)(444.3,67.6)(445.2,65.6)(446.3,68.5)(448.1,69.1)(449.4,67.6)(450.3,72.5)(451.1,73.8)(452.2,68.4)(453.2,67.6)};
\addplot[rsig] coordinates {(453.2,67.6)(454,60.1)};
\addplot[rsip] coordinates {(454,60.1)(455.2,64.7)(456.2,66.1)(457.2,68.2)(458.3,66.7)(459.9,66.2)(461,59.9)};
\addplot[rsig] coordinates {(461,59.9)(462.1,59.9)};
\addplot[rsip] coordinates {(462.1,59.9)(463.2,61.3)(464,63.3)};
\addplot[rsig] coordinates {(464,63.3)(465.1,49.8)(465.9,50.3)(467,53.8)(468,54.9)(469.7,58.6)(470.4,58.6)(471.3,56.1)(472,51.3)(472.9,51.7)(474,45.5)(475.2,43.4)};
\addplot[rsip] coordinates {(475.2,43.4)(476.1,61.3)};
\addplot[rsig] coordinates {(476.1,61.3)(477.2,47.5)(478.1,42.9)(478.9,40.6)};
\addplot[rsib] coordinates {(478.9,40.6)(479.9,40)(481,37.1)(482,34.5)(483.1,34.5)(484.2,37.1)(485.1,38.6)(485.9,38)};
\addplot[rsig] coordinates {(485.9,38)(486.8,44.8)(488.1,40.6)(489.1,46.3)(490.1,47.1)(491,49)(491.9,46.3)(492.8,52.4)};
\addplot[rsib] coordinates {(492.8,52.4)(493.8,38)};
\addplot[rsig] coordinates {(493.8,38)(495.1,53.2)(496.8,52.1)(498,46.9)(498.8,46.9)(499.7,43.7)};
\end{axis}
% study flags
\fill[black!28,draw=black!45,rounded corners=1.5pt,line width=0.3pt] (3268,164) rectangle (3304,192);
\node[anchor=center,inner sep=0pt,text=black!85,font=\fontsize{5.5}{6}\selectfont] at (3286,178) {60};
\fill[black!55,draw=black!35,rounded corners=1.5pt,line width=0.3pt] (3268,115) rectangle (3364,145);
\node[anchor=center,inner sep=0pt,text=white,font=\fontsize{5.5}{6}\selectfont] at (3316,130) {43.7017};
% scroller at the foot
\fill[black!72] (157,0) rectangle (218,3);
\fill[black!72] (1431,0) rectangle (2887,3);
\draw[icon,line width=0.5pt] (2955,-3) circle (7) (2995,-3) circle (7);
\end{tikzpicture}
\end{document}
